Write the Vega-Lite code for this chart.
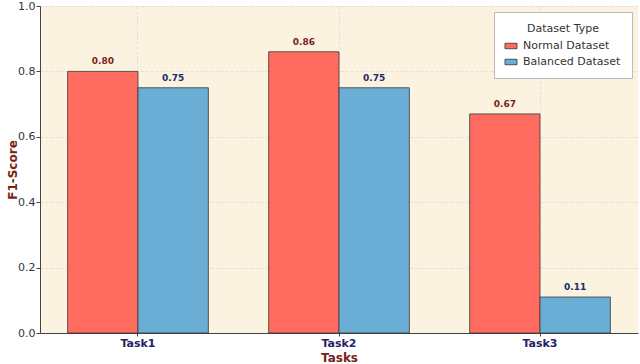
{
  "$schema": "https://vega.github.io/schema/vega-lite/v6.json",
  "width": 598,
  "height": 327,
  "autosize": {"type": "none"},
  "padding": {"left": 40, "top": 6, "right": 2, "bottom": 31},
  "background": "white",
  "config": {
    "font": "DejaVu Sans",
    "view": {"fill": "#fbf2df", "stroke": null}
  },
  "data": {
    "values": [
      {"Task": "Task1", "Type": "Normal Dataset", "F1": 0.80, "Label": "0.80"},
      {"Task": "Task1", "Type": "Balanced Dataset", "F1": 0.75, "Label": "0.75"},
      {"Task": "Task2", "Type": "Normal Dataset", "F1": 0.86, "Label": "0.86"},
      {"Task": "Task2", "Type": "Balanced Dataset", "F1": 0.75, "Label": "0.75"},
      {"Task": "Task3", "Type": "Normal Dataset", "F1": 0.67, "Label": "0.67"},
      {"Task": "Task3", "Type": "Balanced Dataset", "F1": 0.11, "Label": "0.11"}
    ]
  },
  "encoding": {
    "x": {
      "field": "Task", "type": "nominal", "sort": ["Task1", "Task2", "Task3"],
      "scale": {"paddingInner": 0.3, "paddingOuter": 0.1375},
      "axis": {
        "title": "Tasks", "titleFontSize": 12, "titleFontWeight": "bold", "titleColor": "#7a2418",
        "titlePadding": 4,
        "labelAngle": 0, "labelFontSize": 11, "labelFontWeight": "bold", "labelColor": "#1f2466",
        "labelPadding": 1,
        "domainColor": "#444", "tickColor": "#444", "tickSize": 3,
        "grid": true, "gridColor": "#e6dfcf", "gridDash": [3, 2], "bandPosition": 0.5
      }
    },
    "xOffset": {"field": "Type", "type": "nominal", "sort": ["Normal Dataset", "Balanced Dataset"]},
    "y": {
      "field": "F1", "type": "quantitative",
      "scale": {"domain": [0, 1]},
      "axis": {
        "title": "F1-Score", "titleFontSize": 12, "titleFontWeight": "bold", "titleColor": "#7a2418",
        "titleX": -28, "titleBaseline": "middle",
        "values": [0, 0.2, 0.4, 0.6, 0.8, 1.0], "format": ".1f",
        "labelFontSize": 11, "labelColor": "#333", "labelPadding": 1,
        "domainColor": "#444", "tickColor": "#444", "tickSize": 4,
        "gridColor": "#e6dfcf", "gridDash": [3, 2]
      }
    }
  },
  "layer": [
    {
      "mark": {"type": "bar", "stroke": "#3a3a3a", "strokeWidth": 0.8},
      "encoding": {
        "color": {
          "field": "Type", "type": "nominal",
          "scale": {"domain": ["Normal Dataset", "Balanced Dataset"], "range": ["#ff6b5e", "#6aaed6"]},
          "legend": {
            "title": "Dataset Type", "orient": "top-right", "offset": 6,
            "titleFontSize": 11, "titleFontWeight": "normal", "titleColor": "#333", "titleAnchor": "middle",
            "titlePadding": 6,
            "labelFontSize": 11, "labelColor": "#333", "labelOffset": 6,
            "fillColor": "white", "strokeColor": "#bbb", "padding": 11,
            "symbolType": "M-1.1,-0.5H1.1V0.5H-1.1Z", "symbolSize": 120,
            "symbolStrokeColor": "#333", "symbolStrokeWidth": 0.8, "symbolOpacity": 1,
            "rowPadding": 5
          }
        }
      }
    },
    {
      "mark": {"type": "text", "dy": -5, "fontSize": 9, "fontWeight": "bold", "baseline": "bottom"},
      "encoding": {
        "text": {"field": "Label"},
        "color": {
          "condition": {"test": "datum.Type === 'Normal Dataset'", "value": "#7a1f1f"},
          "value": "#1a2a6c"
        }
      }
    }
  ]
}
